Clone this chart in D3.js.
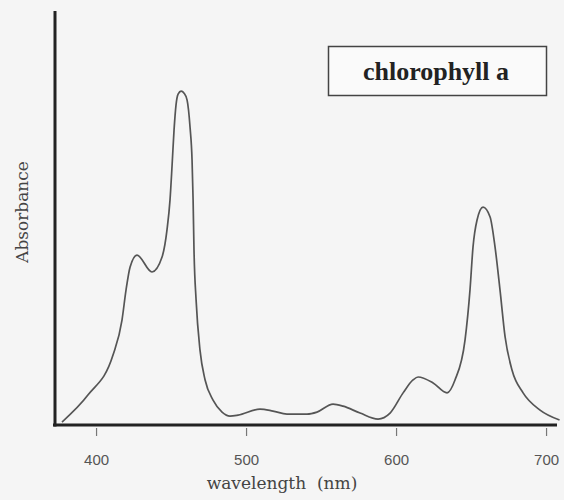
<!DOCTYPE html>
<html>
<head>
<meta charset="utf-8">
<script src="https://cdn.jsdelivr.net/npm/d3@7"></script>
<style>
  html, body { margin: 0; padding: 0; background: #f5f5f5; }
  svg { display: block; }
</style>
</head>
<body>
<svg id="chart" width="564" height="500"></svg>
<script>
// Absorption spectrum of chlorophyll a (relative absorbance vs wavelength)
const wavelengths = [
  377.3, 394.7, 411.3, 417.3, 420.0, 422.7, 427.3, 437.3, 444.0, 447.3,
  449.3, 450.7, 452.0, 453.3, 454.7, 456.7, 458.7, 460.7, 462.7, 464.0,
  464.7, 465.3, 466.7, 469.3, 472.7, 478.0, 484.0, 489.3, 494.7, 509.3,
  518.0, 527.3, 540.7, 547.3, 558.0, 564.7, 576.0, 588.0, 596.0, 604.7,
  611.3, 614.7, 624.7, 634.0, 639.3, 646.0, 649.3, 651.3, 654.0, 658.0,
  662.7, 666.0, 669.3, 672.7, 677.3, 684.7, 696.0, 709.0
];
const absorbance = [
  0.009, 0.091, 0.211, 0.317, 0.408, 0.477, 0.513, 0.462, 0.507, 0.589,
  0.679, 0.785, 0.891, 0.966, 0.999, 1.008, 1.002, 0.981, 0.897, 0.800,
  0.679, 0.528, 0.377, 0.226, 0.136, 0.075, 0.039, 0.027, 0.030, 0.048,
  0.042, 0.033, 0.033, 0.039, 0.063, 0.057, 0.036, 0.018, 0.036, 0.097,
  0.136, 0.145, 0.127, 0.097, 0.136, 0.257, 0.408, 0.537, 0.619, 0.658,
  0.628, 0.537, 0.408, 0.266, 0.166, 0.097, 0.045, 0.015
];
const xTicks = [400, 500, 600, 700];
const xTitle = "wavelength  (nm)";
const yTitle = "Absorbance";
const seriesName = "chlorophyll a";

const svg = d3.select("#chart");

const x = d3.scaleLinear().domain([371.3, 707.3]).range([53, 557]);
const y = d3.scaleLinear().domain([0, 1.25]).range([425, 11]);

const points = wavelengths.map((w, i) => [w, absorbance[i]]);

// spectrum curve
svg.append("path")
  .datum(points)
  .attr("fill", "none")
  .attr("stroke", "#555")
  .attr("stroke-width", 1.7)
  .attr("stroke-linejoin", "round")
  .attr("d", d3.line()
    .x(d => x(d[0]))
    .y(d => y(d[1]))
    .curve(d3.curveMonotoneX));

// x axis: ticks + labels below a heavy baseline
const xAxis = svg.append("g")
  .attr("transform", "translate(0,428)")
  .call(d3.axisBottom(x).tickValues(xTicks).tickSize(8).tickPadding(18).tickSizeOuter(0));
xAxis.select(".domain").remove();
xAxis.selectAll(".tick line").attr("stroke", "#777").attr("stroke-width", 1.2);
xAxis.selectAll(".tick text")
  .attr("fill", "#555")
  .style("font-family", "'Liberation Sans', Arial, sans-serif")
  .style("font-size", "15px");

svg.append("line")
  .attr("x1", 53).attr("x2", 557)
  .attr("y1", y(0)).attr("y2", y(0))
  .attr("stroke", "#222").attr("stroke-width", 3);

// y axis line (no ticks)
svg.append("line")
  .attr("x1", 55).attr("x2", 55)
  .attr("y1", y(1.25)).attr("y2", y(0) + 1.5)
  .attr("stroke", "#222").attr("stroke-width", 3);

// axis titles
svg.append("text")
  .attr("x", 282).attr("y", 489)
  .attr("text-anchor", "middle")
  .attr("fill", "#444")
  .style("font-family", "'DejaVu Serif', serif")
  .style("font-size", "17px")
  .style("white-space", "pre")
  .text(xTitle);

svg.append("text")
  .attr("transform", "translate(28,212) rotate(-90)")
  .attr("text-anchor", "middle")
  .attr("fill", "#444")
  .style("font-family", "'DejaVu Serif', serif")
  .style("font-size", "17px")
  .text(yTitle);

// legend box
svg.append("rect")
  .attr("x", 328.5).attr("y", 46.5)
  .attr("width", 218).attr("height", 49)
  .attr("fill", "#fafafa")
  .attr("stroke", "#444").attr("stroke-width", 1.5);

svg.append("text")
  .attr("x", 436).attr("y", 80)
  .attr("text-anchor", "middle")
  .attr("fill", "#222")
  .style("font-family", "'Liberation Serif', 'Times New Roman', serif")
  .style("font-weight", "bold")
  .style("font-size", "26px")
  .text(seriesName);
</script>
</body>
</html>
